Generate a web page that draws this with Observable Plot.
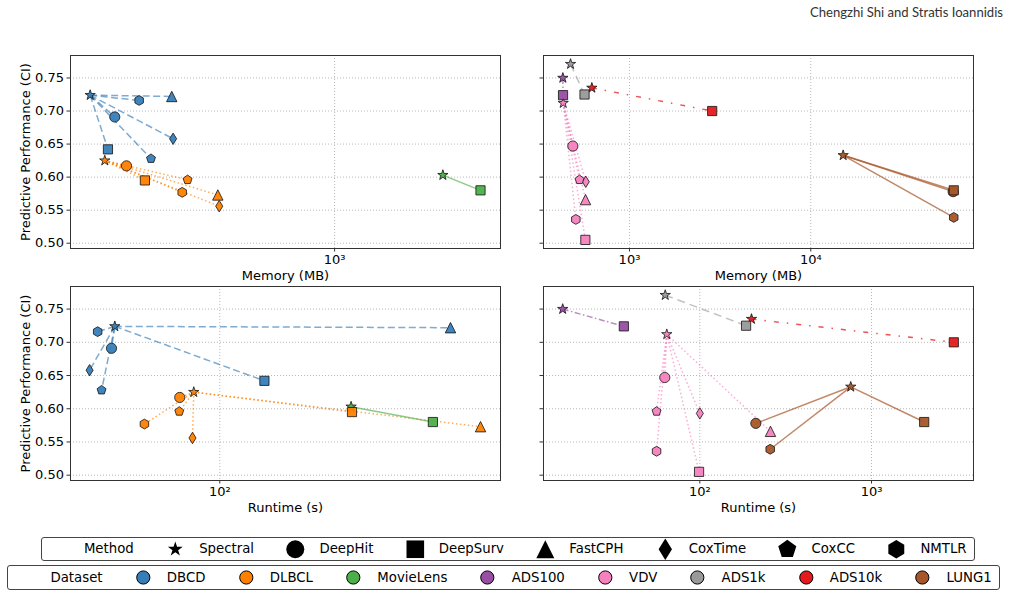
<!DOCTYPE html>
<html><head><meta charset="utf-8">
<script src="https://cdn.jsdelivr.net/npm/d3@7"></script>
<script src="https://cdn.jsdelivr.net/npm/@observablehq/plot@0.6"></script>
<style>
html,body{margin:0;padding:0;background:#fff;}
#fig{position:relative;width:1017px;height:597px;overflow:hidden;font-family:"DejaVu Sans",sans-serif;}
.panel{position:absolute;}
.panel svg{overflow:visible;}
#header{position:absolute;right:14px;top:4px;font-family:Lato,"Open Sans",sans-serif;font-size:13.1px;color:#333;white-space:nowrap;}
.legend{position:absolute;box-sizing:border-box;border:1.2px solid #444;border-radius:3px;background:#fff;display:flex;align-items:center;padding:0 7px 0 5px;font-size:13.3px;color:#000;white-space:nowrap;}
.item{display:flex;align-items:center;}
.item svg{display:block;}
.lbl{margin-left:10.6px;}
</style></head>
<body>
<div id="fig">
  <div id="header">Chengzhi Shi and Stratis Ioannidis</div>
</div>
<script>
// ---------- data ----------
const methods = ["Spectral","DeepHit","DeepSurv","FastCPH","CoxTime","CoxCC","NMTLR"];
const datasets = ["DBCD","DLBCL","MovieLens","ADS100","VDV","ADS1k","ADS10k","LUNG1"];
const leftDatasets = ["DBCD","DLBCL","MovieLens"];
const rightDatasets = ["ADS100","VDV","ADS1k","ADS10k","LUNG1"];

const ptDataset = ["DBCD","DBCD","DBCD","DBCD","DBCD","DBCD","DBCD",
  "DLBCL","DLBCL","DLBCL","DLBCL","DLBCL","DLBCL","DLBCL",
  "MovieLens","MovieLens","ADS100","ADS100",
  "VDV","VDV","VDV","VDV","VDV","VDV","VDV",
  "ADS1k","ADS1k","ADS10k","ADS10k",
  "LUNG1","LUNG1","LUNG1","LUNG1"];
const ptMethod = ["Spectral","DeepHit","DeepSurv","FastCPH","CoxTime","CoxCC","NMTLR",
  "Spectral","DeepHit","DeepSurv","FastCPH","CoxTime","CoxCC","NMTLR",
  "Spectral","DeepSurv","Spectral","DeepSurv",
  "Spectral","DeepHit","DeepSurv","FastCPH","CoxTime","CoxCC","NMTLR",
  "Spectral","DeepSurv","Spectral","DeepSurv",
  "Spectral","DeepHit","DeepSurv","NMTLR"];
const ptMemoryMB = [270,308,297,418,421,374,351,
  292,328,362,535,539,455,442,
  1786,2185,429,430,
  431,487,571,572,574,530,506,
  473,565,620,2858,
  15090,61000,61460,61460];
const ptRuntimeS = [57.0,56.0,127,344,49.8,53.1,52.0,
  87.0,80.7,203,404,86.4,80.5,66.8,
  202,313,15.9,36.1,
  64.2,62.5,99.0,258,100,56.0,56.0,
  62.9,186,200,3016,
  757,212,2027,257];
const ptCI = [0.724,0.691,0.642,0.722,0.658,0.628,0.716,
  0.625,0.617,0.595,0.573,0.556,0.596,0.577,
  0.603,0.580,0.750,0.724,
  0.712,0.647,0.505,0.566,0.593,0.596,0.536,
  0.771,0.725,0.735,0.700,
  0.633,0.578,0.580,0.539];

const yTicks = [0.50,0.55,0.60,0.65,0.70,0.75];
const yDomain = [0.492,0.784];
const memLeftDomain = [243,2432], memRightDomain = [335.5,78990];
const rtLeftDomain = [44.96,449.6], rtRightDomain = [12.29,3927];
const memLeftTicks = [1000], memRightTicks = [1000,10000];
const rtLeftTicks = [100], rtRightTicks = [100,1000];
const powerTickLabels = {100:"10²",1000:"10³",10000:"10⁴"};

// ---------- styles ----------
const datasetColors = {DBCD:"#377eb8",DLBCL:"#ff7f00",MovieLens:"#4daf4a",ADS100:"#984ea3",VDV:"#f781bf",ADS1k:"#999999",ADS10k:"#e41a1c",LUNG1:"#a65628"};
const datasetDash = {DBCD:"7,3.5",DLBCL:"1.5,2.5",MovieLens:null,ADS100:"6,2.5,1.5,2.5",VDV:"1.5,2.5",ADS1k:"8,5",ADS10k:"5,8,1.5,8",LUNG1:null};
const datasetLineOpacity = {DBCD:0.65,DLBCL:0.65,MovieLens:0.65,ADS100:0.65,VDV:0.65,ADS1k:0.6,ADS10k:0.75,LUNG1:0.7};

function mk(f){return {draw(ctx,size){f(ctx,Math.sqrt(size/Math.PI));}};}
function poly(n,c,R){for(let i=0;i<n;i++){const a=-Math.PI/2+i*2*Math.PI/n;const x=R*Math.cos(a),y=R*Math.sin(a);i?c.lineTo(x,y):c.moveTo(x,y);}c.closePath();}
const shapes = {
  Spectral: mk((c,R)=>{const r=R*0.381966;for(let i=0;i<10;i++){const a=-Math.PI/2+i*Math.PI/5;const q=i%2?r:R;const x=q*Math.cos(a),y=q*Math.sin(a);i?c.lineTo(x,y):c.moveTo(x,y);}c.closePath();}),
  DeepHit: mk((c,s)=>{c.moveTo(s,0);c.arc(0,0,s,0,2*Math.PI);}),
  DeepSurv: mk((c,s)=>{c.moveTo(-s,-s);c.lineTo(s,-s);c.lineTo(s,s);c.lineTo(-s,s);c.closePath();}),
  FastCPH: mk((c,s)=>{c.moveTo(0,-s);c.lineTo(s,s);c.lineTo(-s,s);c.closePath();}),
  CoxTime: mk((c,s)=>{c.moveTo(0,-s);c.lineTo(0.62*s,0);c.lineTo(0,s);c.lineTo(-0.62*s,0);c.closePath();}),
  CoxCC: mk((c,s)=>poly(5,c,s)),
  NMTLR: mk((c,s)=>poly(6,c,s))
};
const panelSize = {Spectral:5.4,DeepHit:5.1,DeepSurv:4.6,FastCPH:5.2,CoxTime:5.7,CoxCC:4.7,NMTLR:4.9};
const legendSize = {Spectral:7.8,DeepHit:9,DeepSurv:8.8,FastCPH:9,CoxTime:10.8,CoxCC:9.5,NMTLR:9.2};

const points = ptDataset.map((d,i)=>({dataset:d,method:ptMethod[i],memory:ptMemoryMB[i],runtime:ptRuntimeS[i],ci:ptCI[i]}));

function panel(cfg){
  const {group,xKey,xDomain,xTicks,xLabel,yLabels,box} = cfg;
  const pts = points.filter(p=>group.includes(p.dataset));
  const marks = [
    Plot.gridX(xTicks,{stroke:"#b0b0b0",strokeOpacity:1,strokeWidth:0.9,strokeDasharray:"1,2"}),
    Plot.gridY(yTicks,{stroke:"#b0b0b0",strokeOpacity:1,strokeWidth:0.9,strokeDasharray:"1,2"})
  ];
  for(const ds of group){
    const spec = pts.find(p=>p.dataset===ds&&p.method==="Spectral");
    const others = pts.filter(p=>p.dataset===ds&&p.method!=="Spectral");
    const opt = {x1:()=>spec[xKey],y1:()=>spec.ci,x2:xKey,y2:"ci",stroke:datasetColors[ds],strokeWidth:1.5,strokeOpacity:datasetLineOpacity[ds]};
    if(datasetDash[ds]) opt.strokeDasharray = datasetDash[ds];
    marks.push(Plot.link(others,opt));
  }
  for(const m of methods){
    const sub = pts.filter(p=>p.method===m);
    if(!sub.length) continue;
    marks.push(Plot.dot(sub,{x:xKey,y:"ci",symbol:shapes[m],r:panelSize[m],fill:d=>datasetColors[d.dataset],fillOpacity:0.95,stroke:"#111",strokeWidth:0.8}));
  }
  marks.push(Plot.frame({stroke:"#333",strokeWidth:1}));
  marks.push(Plot.axisX(xTicks,{tickFormat:d=>powerTickLabels[d],tickSize:3.5,tickPadding:3,stroke:"#333",label:xLabel,labelAnchor:"center",labelArrow:"none",labelOffset:cfg.xLabelOffset}));
  marks.push(Plot.axisY(yTicks,{tickFormat:yLabels?d3.format(".2f"):()=>"",tickSize:3.5,tickPadding:3,stroke:"#333",
    label:yLabels?"Predictive Performance (CI)":null,labelAnchor:"center",labelArrow:"none",labelOffset:50}));
  const svg = Plot.plot({
    width:box.width,height:box.height,
    marginLeft:box.mL,marginRight:box.mR,marginTop:box.mT,marginBottom:box.mB,
    style:{fontSize:"13px",fontFamily:"DejaVu Sans",color:"#000",background:"transparent",overflow:"visible"},
    x:{type:"log",domain:xDomain},
    y:{domain:yDomain},
    color:{type:"identity"},
    marks
  });
  const div = document.createElement("div");
  div.className="panel";
  div.style.left=box.left+"px";div.style.top=box.top+"px";
  div.appendChild(svg);
  document.getElementById("fig").appendChild(div);
}

panel({group:leftDatasets,xKey:"memory",xDomain:memLeftDomain,xTicks:memLeftTicks,xLabel:"Memory (MB)",yLabels:true,xLabelOffset:31,
  box:{left:0,top:40,width:505,height:243,mL:70,mR:5,mT:15,mB:35}});
panel({group:rightDatasets,xKey:"memory",xDomain:memRightDomain,xTicks:memRightTicks,xLabel:"Memory (MB)",yLabels:false,xLabelOffset:31,
  box:{left:505,top:40,width:512,height:243,mL:38,mR:44,mT:15,mB:35}});
panel({group:leftDatasets,xKey:"runtime",xDomain:rtLeftDomain,xTicks:rtLeftTicks,xLabel:"Runtime (s)",yLabels:true,xLabelOffset:31,
  box:{left:0,top:283,width:505,height:247,mL:70,mR:5,mT:3,mB:50}});
panel({group:rightDatasets,xKey:"runtime",xDomain:rtRightDomain,xTicks:rtRightTicks,xLabel:"Runtime (s)",yLabels:false,xLabelOffset:31,
  box:{left:505,top:283,width:512,height:247,mL:38,mR:44,mT:3,mB:50}});

// ---------- legends ----------
function legend(title,items,left,top,height,gap){
  const box=document.createElement("div");
  box.className="legend";
  box.style.left=left+"px";box.style.top=top+"px";box.style.height=height+"px";box.style.gap=gap+"px";
  const all=[{label:title,path:null}].concat(items);
  for(const it of all){
    const el=document.createElement("div");el.className="item";
    const svg=d3.create("svg").attr("width",26.6).attr("height",height-2);
    if(it.path){
      svg.append("path").attr("d",it.path).attr("transform",`translate(13.3,${(height-2)/2})`)
        .attr("fill",it.fill).attr("stroke","#000").attr("stroke-width",it.sw);
    }
    el.appendChild(svg.node());
    const t=document.createElement("span");t.className="lbl";t.textContent=it.label;el.appendChild(t);
    box.appendChild(el);
  }
  document.getElementById("fig").appendChild(box);
}
legend("Method",methods.map(m=>({label:m,path:d3.symbol(shapes[m],legendSize[m]*legendSize[m]*Math.PI)(),fill:"#000",sw:0})),40.7,536.7,24.5,28.2);
legend("Dataset",datasets.map(d=>({label:d,path:d3.symbol(shapes.DeepHit,6.6*6.6*Math.PI)(),fill:datasetColors[d],sw:1})),7.3,565.3,25,27.1);
</script>
</body></html>
